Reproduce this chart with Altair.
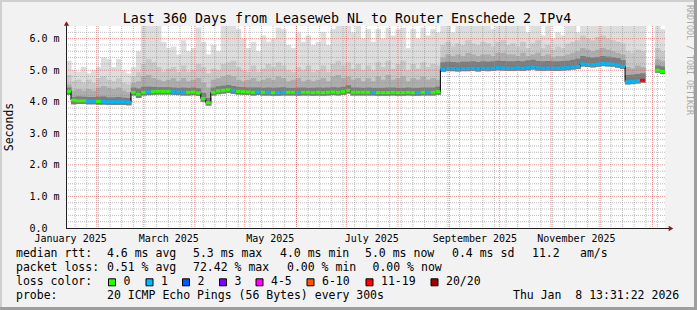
import altair as alt
import pandas as pd
from datetime import datetime, timedelta

# ---------------- data ----------------
START = datetime(2025, 1, 13, 12, 31, 22)
END = datetime(2026, 1, 8, 12, 31, 22)
BIN_DAYS = 3

TITLE = "Last 360 Days from Leaseweb NL to Router Enschede 2 IPv4"

median = [
    4.33, 4.05, 4.03, 4.03, 4.02, 4.02, 4.01, 4.01, 4.00, 4.00,
    4.00, 4.00, 3.99, 4.30, 4.24, 4.30, 4.31, 4.32, 4.33, 4.33,
    4.33, 4.32, 4.31, 4.30, 4.30, 4.31, 4.28, 4.10, 3.97, 4.30,
    4.34, 4.36, 4.38, 4.35, 4.33, 4.32, 4.31, 4.30, 4.31, 4.30,
    4.30, 4.29, 4.29, 4.30, 4.30, 4.30, 4.29, 4.30, 4.30, 4.29,
    4.30, 4.29, 4.30, 4.31, 4.30, 4.32, 4.36, 4.30, 4.30, 4.30,
    4.30, 4.30, 4.29, 4.29, 4.29, 4.30, 4.29, 4.29, 4.30, 4.29,
    4.29, 4.30, 4.30, 4.30, 4.32, 5.03, 5.05, 5.05, 5.04, 5.05,
    5.05, 5.06, 5.04, 5.06, 5.05, 5.06, 5.08, 5.07, 5.06, 5.06,
    5.07, 5.06, 5.08, 5.10, 5.07, 5.06, 5.07, 5.06, 5.06, 5.07,
    5.08, 5.10, 5.12, 5.20, 5.18, 5.17, 5.19, 5.21, 5.20, 5.19,
    5.16, 5.12, 4.63, 4.64, 4.66, 4.68, None, None, 5.00, 4.96,
]

loss = [
    0, 0, 0, 0, 1, 1, 0, 1, 1, 1,
    1, 1, 1, 0, 0, 0, 1, 0, 0, 0,
    0, 1, 1, 1, 0, 0, 0, 0, 0, 0,
    0, 0, 0, 1, 0, 0, 0, 0, 1, 0,
    1, 0, 1, 1, 0, 0, 1, 0, 0, 0,
    0, 0, 0, 0, 0, 0, 0, 0, 0, 0,
    0, 1, 0, 0, 0, 0, 0, 0, 0, 0,
    1, 0, 1, 0, 0, 1, 1, 1, 1, 1,
    1, 1, 1, 1, 1, 1, 1, 1, 1, 1,
    1, 1, 1, 1, 1, 1, 1, 1, 1, 1,
    1, 1, 1, 1, 1, 1, 1, 1, 1, 1,
    1, 1, 1, 1, 1, 6, 0, 0, 0, 0,
]

smoke_min = [
    4.22, 3.92, 3.93, 3.93, 3.92, 3.92, 3.91, 3.91, 3.90, 3.90,
    3.90, 3.90, 3.89, 4.20, 4.12, 4.20, 4.21, 4.22, 4.23, 4.23,
    4.23, 4.22, 4.21, 4.20, 4.20, 4.21, 4.18, 4.00, 3.88, 4.20,
    4.24, 4.26, 4.28, 4.25, 4.23, 4.22, 4.21, 4.20, 4.21, 4.20,
    4.20, 4.19, 4.19, 4.20, 4.20, 4.20, 4.19, 4.20, 4.20, 4.19,
    4.20, 4.19, 4.20, 4.21, 4.20, 4.22, 4.26, 4.20, 4.20, 4.20,
    4.20, 4.20, 4.19, 4.19, 4.19, 4.20, 4.19, 4.19, 4.20, 4.19,
    4.19, 4.20, 4.20, 4.20, 4.22, 4.95, 4.97, 4.97, 4.96, 4.97,
    4.97, 4.98, 4.96, 4.98, 4.97, 4.98, 5.00, 4.99, 4.98, 4.98,
    4.99, 4.98, 5.00, 5.02, 4.99, 4.98, 4.99, 4.98, 4.98, 4.99,
    5.00, 5.02, 5.04, 5.12, 5.10, 5.09, 5.11, 5.13, 5.12, 5.11,
    5.08, 5.04, 4.55, 4.56, 4.58, 4.60, None, None, 4.92, 4.88,
]

smoke_dark = [
    4.45, 4.15, 4.17, 4.16, 4.15, 4.15, 4.16, 4.17, 4.14, 4.14,
    4.15, 4.13, 4.12, 4.45, 4.42, 4.47, 4.48, 4.47, 4.46, 4.46,
    4.46, 4.45, 4.44, 4.45, 4.44, 4.45, 4.43, 4.28, 4.12, 4.45,
    4.49, 4.51, 4.53, 4.50, 4.47, 4.46, 4.45, 4.45, 4.45, 4.44,
    4.45, 4.44, 4.45, 4.46, 4.44, 4.44, 4.45, 4.45, 4.44, 4.44,
    4.45, 4.44, 4.45, 4.46, 4.45, 4.47, 4.52, 4.45, 4.45, 4.44,
    4.45, 4.44, 4.44, 4.44, 4.45, 4.45, 4.44, 4.44, 4.45, 4.44,
    4.44, 4.45, 4.45, 4.45, 4.48, 5.25, 5.27, 5.26, 5.25, 5.27,
    5.27, 5.28, 5.26, 5.28, 5.27, 5.28, 5.30, 5.29, 5.28, 5.28,
    5.29, 5.28, 5.31, 5.33, 5.29, 5.28, 5.29, 5.28, 5.28, 5.29,
    5.30, 5.33, 5.36, 5.45, 5.42, 5.40, 5.42, 5.45, 5.43, 5.41,
    5.38, 5.32, 4.85, 4.86, 4.88, 4.90, None, None, 5.15, 5.12,
]

smoke_mid = [
    4.55, 4.35, 4.40, 4.35, 4.40, 4.35, 4.45, 4.50, 4.45, 4.40,
    4.45, 4.35, 4.30, 4.60, 4.65, 4.80, 4.85, 4.75, 4.70, 4.65,
    4.70, 4.75, 4.65, 4.75, 4.65, 4.70, 4.75, 4.60, 4.45, 4.70,
    4.75, 4.80, 4.85, 4.80, 4.70, 4.65, 4.70, 4.75, 4.65, 4.70,
    4.75, 4.70, 4.80, 4.75, 4.65, 4.70, 4.75, 4.65, 4.70, 4.65,
    4.70, 4.75, 4.65, 4.80, 4.85, 4.75, 4.80, 4.70, 4.75, 4.65,
    4.75, 4.65, 4.80, 4.70, 4.85, 4.70, 4.75, 4.80, 4.65, 4.75,
    4.70, 4.80, 4.70, 4.75, 4.70, 5.40, 5.50, 5.45, 5.50, 5.45,
    5.55, 5.50, 5.45, 5.50, 5.50, 5.45, 5.55, 5.55, 5.50, 5.50,
    5.45, 5.55, 5.45, 5.50, 5.55, 5.45, 5.50, 5.40, 5.45, 5.45,
    5.50, 5.55, 5.60, 5.70, 5.65, 5.60, 5.65, 5.70, 5.65, 5.60,
    5.55, 5.50, 5.10, 5.05, 5.15, 5.10, None, None, 5.35, 5.30,
]

smoke_p90 = [
    4.85, 4.65, 4.70, 4.60, 4.70, 4.60, 4.75, 4.80, 4.70, 4.65,
    4.75, 4.60, 4.55, 4.80, 4.95, 5.20, 5.35, 5.25, 5.10, 4.95,
    5.05, 5.10, 4.95, 5.15, 4.95, 5.00, 5.20, 5.10, 4.90, 5.05,
    5.00, 5.20, 5.25, 5.30, 5.10, 5.00, 4.95, 5.15, 4.95, 5.05,
    5.20, 5.10, 5.25, 5.15, 5.00, 4.95, 5.10, 5.00, 5.15, 4.95,
    5.00, 5.15, 4.95, 5.20, 5.30, 5.15, 5.25, 5.05, 5.20, 5.00,
    5.15, 5.00, 5.25, 5.10, 5.30, 5.05, 5.20, 5.30, 5.00, 5.20,
    5.05, 5.25, 5.10, 5.20, 5.15, 5.80, 5.90, 5.75, 5.85, 5.80,
    5.95, 5.85, 5.80, 5.90, 5.85, 5.75, 5.90, 5.95, 5.80, 5.85,
    5.75, 5.90, 5.70, 5.85, 5.95, 5.70, 5.80, 5.65, 5.75, 5.70,
    5.85, 5.90, 5.95, 6.10, 6.00, 5.95, 6.05, 6.10, 6.00, 5.95,
    5.90, 5.85, 5.60, 5.55, 5.65, 5.60, None, None, 5.70, 5.60,
]

smoke_max = [
    5.30, 5.00, 4.95, 5.10, 4.90, 5.00, 5.10, 5.40, 5.35, 5.10,
    5.35, 5.00, 4.90, 5.10, 5.60, 6.40, 6.40, 6.40, 6.40, 5.90,
    5.70, 5.75, 5.50, 5.95, 5.60, 5.70, 6.35, 5.90, 5.50, 5.80,
    5.60, 6.40, 6.40, 6.40, 6.30, 6.00, 5.70, 5.90, 5.60, 6.10,
    5.90, 6.00, 6.35, 6.30, 5.80, 5.70, 6.20, 5.90, 6.10, 5.80,
    5.90, 6.20, 5.80, 6.30, 6.40, 6.40, 6.40, 6.20, 6.40, 6.00,
    6.30, 5.90, 6.30, 6.00, 6.35, 6.10, 6.30, 6.35, 5.70, 6.30,
    6.00, 6.35, 6.10, 6.30, 6.20, 6.40, 6.40, 6.20, 6.40, 6.40,
    6.40, 6.40, 6.40, 6.40, 6.40, 6.30, 6.40, 6.40, 6.40, 6.40,
    6.40, 6.40, 6.20, 6.40, 6.40, 6.10, 6.40, 6.00, 6.20, 6.10,
    6.40, 6.40, 6.20, 6.40, 6.40, 6.40, 6.40, 6.40, 6.40, 6.40,
    6.40, 6.40, 6.40, 6.40, 6.40, 6.40, None, None, 6.40, 6.30,
]

loss_labels = ["0", "1", "2", "3", "4-5", "6-10", "11-19", "20/20"]
rtt_items = ["median rtt:", "4.6 ms avg", "5.3 ms max", "4.0 ms min",
             "5.0 ms now", "0.4 ms sd", "11.2", "am/s"]
loss_items = ["packet loss:", "0.51 % avg", "72.42 % max", "0.00 % min", "0.00 % now"]
probe_items = ["probe:", "20 ICMP Echo Pings (56 Bytes) every 300s",
               "Thu Jan\u00a0\u00a08 13:31:22 2026"]
y_ticks = [0, 1, 2, 3, 4, 5, 6]
Y_MAX = 6.4

# ---------------- style / layout ----------------
loss_colors = ["#26ff00", "#00b8ff", "#0059ff", "#7e00ff",
               "#ff00ff", "#ff5500", "#ff0000", "#a10000"]
MONO = "DejaVu Sans Mono"
W, H = 599, 202
PL, PT, PR, PB = 66, 26, 32, 82
EPOCH = datetime(1970, 1, 1)


def ms(d):
    return (d - EPOCH).total_seconds() * 1000.0


xs = alt.Scale(type="utc", domain=[ms(START), ms(END)])
ys = alt.Scale(domain=[0, Y_MAX], nice=False)

x_label_dates = [datetime(2025, m, 16) for m in (1, 3, 5, 7, 9, 11)]
XAXIS = alt.Axis(values=[ms(d) for d in x_label_dates],
                 labelExpr="utcFormat(datum.value, '%B %Y')",
                 labelFont=MONO, labelFontSize=10, labelColor="black",
                 ticks=False, domain=False, grid=False, labelPadding=5,
                 labelBaseline="top", labelFlush=False, labelOverlap=False,
                 title=None)
YAXIS = alt.Axis(values=y_ticks,
                 labelExpr="datum.value == 0 ? '0.0' : format(datum.value, '.1f') + ' m'",
                 labelFont=MONO, labelFontSize=10, labelColor="black",
                 labelAlign="left", labelBaseline="middle", labelPadding=37,
                 ticks=False, domain=False, grid=False, title=None)


def X(field):
    return alt.X(field, scale=xs, axis=XAXIS)


def Y(field):
    return alt.Y(field, scale=ys, axis=YAXIS)


n = len(median)
rows = []
for i in range(n):
    t0 = START + timedelta(days=BIN_DAYS * i)
    t1 = min(t0 + timedelta(days=BIN_DAYS + 0.35), END)
    te = min(t0 + timedelta(days=BIN_DAYS), END)
    rows.append(dict(t0=ms(t0), t1=ms(t1), te=ms(te),
                     med=median[i], lo=smoke_min[i], dark=smoke_dark[i],
                     mid=smoke_mid[i], p90=smoke_p90[i], top=smoke_max[i],
                     col=loss_colors[loss[i]]))
df = pd.DataFrame(rows)


def band(col, color):
    d = df.dropna(subset=[col, "lo"])
    return alt.Chart(d).mark_rect(color=color).encode(
        x=X("t0:T"), x2="t1:T", y=Y("lo:Q"), y2=f"{col}:Q")


layers = [
    band("top", "#dddddd"),
    band("p90", "#c8c8c8"),
    band("mid", "#adadad"),
    band("dark", "#7c7c7c"),
]

# grid
hminor = [round(0.2 * k, 1) for k in range(1, 32) if k % 5 != 0]
hmajor = [float(v) for v in y_ticks if v > 0]
vmajor, vminor = [], []
d = datetime(2025, 2, 1)
while d < END:
    vmajor.append(ms(d))
    d = datetime(d.year + (d.month // 12), d.month % 12 + 1, 1)
d = datetime(2025, 1, 19)
while d < END:
    vminor.append(ms(d))
    d += timedelta(days=7)

layers += [
    alt.Chart(pd.DataFrame({"v": hminor})).mark_rule(
        color="#8f8f8f", opacity=0.6, strokeDash=[1, 1], strokeWidth=1).encode(y=Y("v:Q")),
    alt.Chart(pd.DataFrame({"t": vminor})).mark_rule(
        color="#8f8f8f", opacity=0.6, strokeDash=[1, 1], strokeWidth=1).encode(x=X("t:T")),
    alt.Chart(pd.DataFrame({"v": hmajor})).mark_rule(
        color="#de4f4f", opacity=0.6, strokeDash=[1, 1], strokeWidth=1).encode(y=Y("v:Q")),
    alt.Chart(pd.DataFrame({"t": vmajor})).mark_rule(
        color="#de4f4f", opacity=0.6, strokeDash=[1, 1], strokeWidth=1).encode(x=X("t:T")),
]

# black step line under the median
pts = []
seg = 0
prev_ok = False
for i in range(n):
    if median[i] is None:
        if prev_ok:
            seg += 1
        prev_ok = False
        continue
    pts.append(dict(t=df.t0[i], m=median[i], s=seg))
    if (i + 1 >= n) or (median[i + 1] is None):
        pts.append(dict(t=df.te[i], m=median[i], s=seg))
    prev_ok = True
step = pd.DataFrame(pts)
layers.append(
    alt.Chart(step).mark_line(color="#000000", strokeWidth=1, interpolate="step-after").encode(
        x=X("t:T"), y=Y("m:Q"), detail="s:N"))

medd = df.dropna(subset=["med"])
layers.append(
    alt.Chart(medd).mark_rule(strokeWidth=3, strokeCap="butt").encode(
        x=X("t0:T"), x2="te:T", y=Y("med:Q"),
        color=alt.Color("col:N", scale=None)))

DUMMY = pd.DataFrame({"a": [0]})
AXIS_C = "#1f1f1f"
ARROW_C = "#801f1f"

# axis lines and arrows
layers += [
    alt.Chart(DUMMY).mark_rule(color=AXIS_C, strokeWidth=1).encode(
        x=alt.value(0), x2=alt.value(W + 4), y=alt.value(H + 0.5)),
    alt.Chart(DUMMY).mark_rule(color=AXIS_C, strokeWidth=1).encode(
        x=alt.value(0.5), y=alt.value(-3), y2=alt.value(H)),
    alt.Chart(DUMMY).mark_point(shape="triangle-right", filled=True, color=ARROW_C,
                                size=28, opacity=1).encode(
        x=alt.value(W + 6), y=alt.value(H + 0.5)),
    alt.Chart(DUMMY).mark_point(shape="triangle-up", filled=True, color=ARROW_C,
                                size=28, opacity=1).encode(
        x=alt.value(0.5), y=alt.value(-2.5)),
]

# frame shading
layers += [
    alt.Chart(DUMMY).mark_rect(color="#cfcfcf").encode(
        x=alt.value(-PL), x2=alt.value(W + PR), y=alt.value(-PT), y2=alt.value(-PT + 2)),
    alt.Chart(DUMMY).mark_rect(color="#cfcfcf").encode(
        x=alt.value(-PL), x2=alt.value(-PL + 2), y=alt.value(-PT), y2=alt.value(H + PB)),
    alt.Chart(DUMMY).mark_rect(color="#9e9e9e").encode(
        x=alt.value(W + PR - 3), x2=alt.value(W + PR), y=alt.value(-PT), y2=alt.value(H + PB)),
    alt.Chart(DUMMY).mark_rect(color="#9e9e9e").encode(
        x=alt.value(-PL), x2=alt.value(W + PR), y=alt.value(H + PB - 3), y2=alt.value(H + PB)),
]


def txt(s, ax, ay, size=11.5, align="left", angle=0, color="black"):
    return alt.Chart(DUMMY).mark_text(
        font=MONO, fontSize=size, align=align, baseline="middle",
        angle=angle, color=color).encode(
        x=alt.value(ax - PL), y=alt.value(ay - PT), text=alt.value(s))


layers.append(txt(TITLE, 347, 18.5, size=13.3, align="center"))
layers.append(txt("Seconds", 9.5, 127, size=11.5, align="center", angle=270))
layers.append(txt("RRDTOOL / TOBI OETIKER", 688.5, 60, size=8.3, align="center",
                  angle=90, color="#a8a8a8"))

ROW_Y = [254.3, 268.3, 282.3, 295.7]
rtt_x = [16, 107, 193, 280, 365, 452, 532, 580]
loss_x = [16, 107, 193, 287, 372.5]
probe_x = [16, 107, 513]
for s, x in zip(rtt_items, rtt_x):
    layers.append(txt(s, x, ROW_Y[0]))
for s, x in zip(loss_items, loss_x):
    layers.append(txt(s, x, ROW_Y[1]))
for s, x in zip(probe_items, probe_x):
    layers.append(txt(s, x, ROW_Y[3]))
layers.append(txt("loss color:", 16, ROW_Y[2]))
sq_x = [108.5, 146, 182.5, 219.5, 256, 307, 366, 431]
for lab, c, x in zip(loss_labels, loss_colors, sq_x):
    layers.append(alt.Chart(DUMMY).mark_rect(color=c, stroke="black", strokeWidth=1).encode(
        x=alt.value(x - PL), x2=alt.value(x - PL + 7),
        y=alt.value(ROW_Y[2] - PT - 3.5), y2=alt.value(ROW_Y[2] - PT + 3.5)))
    layers.append(txt(lab, x + 15, ROW_Y[2]))

chart = alt.layer(*layers).properties(
    width=W, height=H,
    padding={"left": PL, "top": PT, "right": PR, "bottom": PB},
    autosize=alt.AutoSizeParams(type="none"),
    background="#f2f2f2",
).configure_view(fill="white", strokeWidth=0)

chart.save("out.html", embed_options={"renderer": "svg", "actions": False})
